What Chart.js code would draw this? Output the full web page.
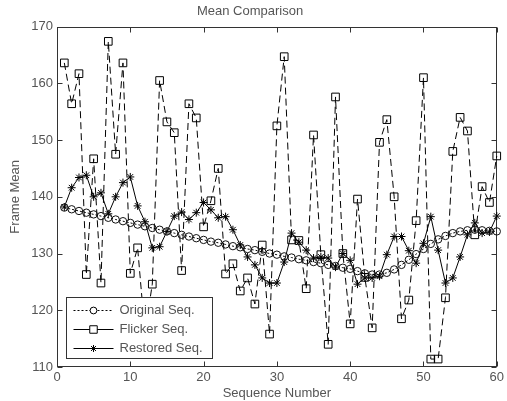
<!DOCTYPE html>
<html><head><meta charset="utf-8">
<script src="https://cdn.jsdelivr.net/npm/chart.js@4/dist/chart.umd.min.js"></script>
<style>html,body{margin:0;padding:0;background:#fff}canvas{display:block}</style>
</head><body>
<canvas id="c" width="507" height="401"></canvas>
<script>
const seqNumbers = [1,2,3,4,5,6,7,8,9,10,11,12,13,14,15,16,17,18,19,20,21,22,23,24,25,26,27,28,29,30,31,32,33,34,35,36,37,38,39,40,41,42,43,44,45,46,47,48,49,50,51,52,53,54,55,56,57,58,59,60];
const originalSeq = [138.1,137.8,137.5,137.2,136.9,136.6,136.3,136.0,135.7,135.4,135.1,134.8,134.5,134.2,133.9,133.6,133.3,133.0,132.7,132.4,132.1,131.9,131.6,131.3,131.1,130.8,130.6,130.3,130.0,129.8,129.5,129.3,129.0,128.8,128.5,128.3,128.0,127.8,127.5,127.3,126.9,126.5,126.3,126.3,126.6,127.2,128.0,128.9,129.9,130.8,131.7,132.5,133.1,133.6,133.9,134.1,134.2,134.1,134.0,133.9];
const flickerSeq = [163.6,156.4,161.7,126.3,146.7,124.8,167.4,147.5,163.6,126.5,131.0,116.0,124.6,160.5,153.2,151.3,127.0,156.4,153.9,134.7,139.3,145.0,126.4,128.2,123.4,125.7,121.1,131.5,115.8,152.5,164.7,132.4,132.3,123.8,150.9,129.8,114.0,157.6,130.0,117.6,139.6,125.8,116.9,149.6,153.6,140.0,118.5,121.8,135.8,161.0,111.4,111.4,122.2,148.0,154.0,151.6,133.3,141.8,139.0,147.2];
const restoredSeq = [138.2,141.6,143.4,143.8,140.0,140.7,137.0,140.0,142.5,143.5,138.4,135.6,131.0,131.2,133.9,136.6,137.3,136.0,137.2,139.0,137.7,136.3,136.5,134.2,131.5,129.4,128.0,125.7,124.8,124.8,128.5,133.6,132.0,130.6,129.2,129.4,129.2,127.6,130.0,128.8,124.6,125.7,125.7,126.0,129.8,133.0,133.0,130.5,128.3,131.8,136.5,130.6,124.8,125.7,129.4,133.3,135.4,133.6,133.8,136.6];
const xTicks = [0,10,20,30,40,50,60];
const yTicks = [110,120,130,140,150,160,170];
const seriesNames = ['Original Seq.','Flicker Seq.','Restored Seq.'];

const FONT = 'Liberation Sans, Arial, Helvetica, sans-serif';
const TXT = '#555';

function pts(vals){ return seqNumbers.map((s,i)=>({x:s,y:vals[i]})); }

const framePlugin = {
  id:'frame',
  beforeDatasetsDraw(chart){
    const {ctx, chartArea:a, scales:{x,y}} = chart;
    ctx.save();
    ctx.strokeStyle = '#333'; ctx.lineWidth = 1;
    const L = Math.round(a.left)+0.5, R = Math.round(a.right)-0.5, T = Math.round(a.top)+0.5, B = Math.round(a.bottom)-0.5;
    ctx.strokeRect(L, T, R-L, B-T);
    const tl = 5;
    ctx.beginPath();
    xTicks.forEach(v=>{ const px = Math.round(x.getPixelForValue(v))+0.5; ctx.moveTo(px,B); ctx.lineTo(px,B-tl); ctx.moveTo(px,T); ctx.lineTo(px,T+tl); });
    yTicks.forEach(v=>{ const py = Math.round(y.getPixelForValue(v))+0.5; ctx.moveTo(L,py); ctx.lineTo(L+tl,py); ctx.moveTo(R,py); ctx.lineTo(R-tl,py); });
    ctx.stroke();
    ctx.restore();
  }
};

const legendPlugin = {
  id:'innerLegend',
  afterDatasetsDraw(chart){
    const {ctx, chartArea:a} = chart;
    const bx = Math.round(a.left)+9.5, by = Math.round(a.bottom)-69.5, bw = 146, bh = 61;
    ctx.save();
    ctx.fillStyle = '#fff'; ctx.fillRect(bx, by, bw, bh);
    ctx.strokeStyle = '#333'; ctx.lineWidth = 1; ctx.strokeRect(bx, by, bw, bh);
    const legendDash = [[2,2],[],[]];
    const legendRadius = [3.4, 5.3, 3.5];
    chart.data.datasets.forEach((ds,i)=>{
      const ry = Math.round(by + 12 + i*19)+0.5;
      ctx.strokeStyle = '#000'; ctx.lineWidth = 1;
      ctx.setLineDash(legendDash[i]);
      ctx.beginPath(); ctx.moveTo(bx+7, ry); ctx.lineTo(bx+47, ry); ctx.stroke();
      ctx.setLineDash([]);
      ctx.fillStyle = '#fff';
      Chart.helpers.drawPoint(ctx, {pointStyle: ds.pointStyle, radius: legendRadius[i], borderWidth: 1, rotation: 0}, bx+27, ry);
      ctx.fillStyle = TXT;
      ctx.font = '13px ' + FONT;
      ctx.textBaseline = 'middle'; ctx.textAlign = 'left';
      ctx.fillText(ds.label, bx+53, ry);
    });
    ctx.restore();
  }
};

new Chart(document.getElementById('c'), {
  type:'line',
  data:{
    datasets:[
      {label:seriesNames[0], data:pts(originalSeq), borderColor:'#000', borderWidth:1, borderDash:[2,2],
       pointStyle:'circle', pointRadius:3.7, pointBorderColor:'#111', pointBackgroundColor:'rgba(255,255,255,0)', pointBorderWidth:1, tension:0, clip:false},
      {label:seriesNames[1], data:pts(flickerSeq), borderColor:'#000', borderWidth:1, borderDash:[7,4],
       pointStyle:'rect', pointRadius:5.4, pointBorderColor:'#000', pointBackgroundColor:'rgba(255,255,255,0)', pointBorderWidth:1, tension:0, clip:false},
      {label:seriesNames[2], data:pts(restoredSeq), borderColor:'#000', borderWidth:1,
       pointStyle:'star', pointRadius:4, pointBorderColor:'#000', pointBackgroundColor:'#000', pointBorderWidth:1, tension:0, clip:false}
    ]
  },
  options:{
    responsive:false, animation:false, devicePixelRatio:1,
    layout:{padding:{left:0,right:7,top:0,bottom:0}},
    plugins:{
      legend:{display:false}, tooltip:{enabled:false},
      title:{display:true, text:'Mean Comparison', color:TXT, font:{family:FONT,size:13,weight:'normal'}, padding:{top:4,bottom:7}}
    },
    scales:{
      x:{type:'linear', min:0, max:60,
         afterBuildTicks:s=>{ s.ticks = xTicks.map(v=>({value:v})); },
         afterFit:s=>{ s.height = 34; },
         grid:{display:false, drawTicks:false}, border:{display:false},
         ticks:{color:TXT, font:{family:FONT,size:13}, padding:3, maxRotation:0, autoSkip:false},
         title:{display:true, text:'Sequence Number', color:TXT, font:{family:FONT,size:13}, padding:{top:0,bottom:0}}},
      y:{type:'linear', min:110, max:170,
         afterBuildTicks:s=>{ s.ticks = yTicks.map(v=>({value:v})); },
         afterFit:s=>{ s.width = 57; },
         grid:{display:false, drawTicks:false}, border:{display:false},
         ticks:{color:TXT, font:{family:FONT,size:13}, padding:4, autoSkip:false},
         title:{display:true, text:'Frame Mean', color:TXT, font:{family:FONT,size:13}, padding:{top:8,bottom:0}}}
    }
  },
  plugins:[framePlugin, legendPlugin]
});
</script>
</body></html>
